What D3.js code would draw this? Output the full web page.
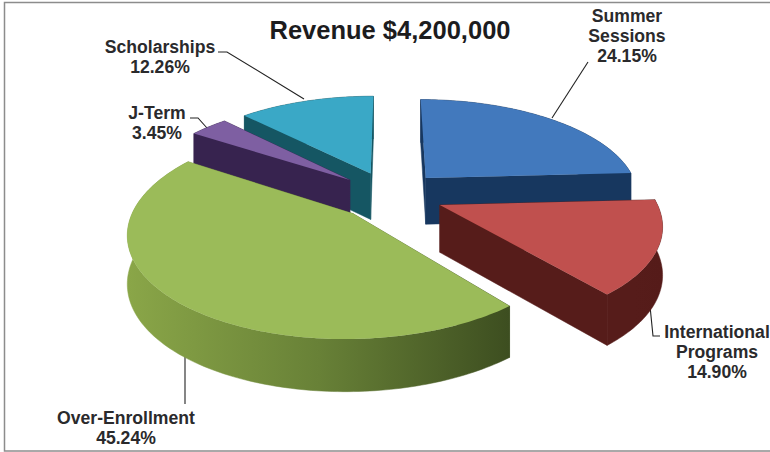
<!DOCTYPE html>
<html><head><meta charset="utf-8">
<script src="https://cdn.jsdelivr.net/npm/d3@7"></script>
<style>html,body{margin:0;padding:0;background:#fff}svg{display:block}</style></head>
<body><svg id="c" width="770" height="452"></svg>
<script>
const categories=["Summer Sessions","International Programs","Over-Enrollment","J-Term","Scholarships"];
const values=[24.15,14.90,45.24,3.45,12.26];
const topColors=["#4279bd","#c0504e","#9bbb59","#7e5fa2","#3aa8c6"];
const wallStops=[["#17375f","#17375f","#17375f"],["#561c1a","#561c1a","#551b19"],["#8aa648","#688137","#3d4e20"],["#37234f","#37234f","#37234f"],["#155663","#155663","#155663"]];
const labelLines=[["Summer","Sessions","24.15%"],["International","Programs","14.90%"],["Over-Enrollment","45.24%"],["J-Term","3.45%"],["Scholarships","12.26%"]];
const title="Revenue $4,200,000";

const W=770,H=452,cx=390,cy=195,A=214,B=97,E=0.25,persp=0.17,depth=47;
const svg=d3.select("#c");
svg.append("rect").attr("x",4.5).attr("y",2.5).attr("width",780).attr("height",448.5).attr("fill","#fff").attr("stroke","#8c8c8c").attr("stroke-width",1.5);

const pie=d3.pie().sort(null).value(d=>d);
const arcs=pie(values);
const proj=(wx,wy,z)=>{const p=1/(1-persp*wy);return [cx+A*wx*p,cy+B*wy*p+z*depth*Math.sqrt(p)];};
const line=d3.line();
const defs=svg.append("defs");

// leader lines (under the slices)
const leaders=[
 [[552,118],[588,62]],
 [[649,296],[653,336],[660,336]],
 [[185,350],[185,404]],
 [[207,128],[198,118],[190,118]],
 [[304,99],[227,52],[218,52]]
];
leaders.forEach(p=>svg.append("path").attr("d",line(p)).attr("fill","none").attr("stroke","#222").attr("stroke-width",1.1));

function slice(i){
  const a=arcs[i],mid=(a.startAngle+a.endAngle)/2;
  const ox=E*Math.sin(mid),oy=-E*Math.cos(mid);
  const n=Math.ceil((a.endAngle-a.startAngle)/0.02);
  const th=d3.range(n+1).map(k=>a.startAngle+(a.endAngle-a.startAngle)*k/n);
  const rim=z=>th.map(t=>proj(ox+Math.sin(t),oy-Math.cos(t),z));
  const apex=z=>proj(ox,oy,z);
  return {rim,apex};
}
const order=[0,4,3,2,1];
const g=svg.append("g");
order.forEach(i=>{
  const s=slice(i);
  const top=s.rim(0),bot=s.rim(1),a0=s.apex(0),a1=s.apex(1);
  const gid="wall"+i;
  const xs=top.map(d=>d[0]);
  const lg=defs.append("linearGradient").attr("id",gid).attr("gradientUnits","userSpaceOnUse")
    .attr("x1",d3.min(xs)).attr("x2",d3.max(xs)).attr("y1",0).attr("y2",0);
  wallStops[i].forEach((c,k)=>lg.append("stop").attr("offset",k/2).attr("stop-color",c));
  const sl=g.append("g").attr("class","slice").attr("data-cat",categories[i]);
  const walls=[
    [a0,top[0],bot[0],a1],
    [a0,top[top.length-1],bot[bot.length-1],a1],
    top.concat(bot.slice().reverse())
  ];
  walls.sort((p,q)=>d3.mean(p,d=>d[1])-d3.mean(q,d=>d[1]));
  walls.forEach(w=>sl.append("path").attr("d",line(w)+"Z").attr("fill",`url(#${gid})`).attr("stroke",`url(#${gid})`).attr("stroke-width",.5));
  sl.append("path").attr("d",line([a0,...top])+"Z").attr("fill",topColors[i]);
});

// labels
const labelPos=[[627,22],[717,338],[126,424],[157,119],[160,53]];
const fs=17.6,lh=20;
labelLines.forEach((ls,i)=>{
  const t=svg.append("text").attr("text-anchor","middle").attr("font-family","Liberation Sans, Arial, sans-serif")
    .attr("font-weight","bold").attr("font-size",fs).attr("fill","#2a2a2c");
  ls.forEach((s,k)=>t.append("tspan").attr("x",labelPos[i][0]).attr("y",labelPos[i][1]+k*lh).text(s));
});
svg.append("text").attr("x",390).attr("y",39).attr("text-anchor","middle").attr("font-family","Liberation Sans, Arial, sans-serif")
  .attr("font-weight","bold").attr("font-size",25.5).attr("fill","#1c1c1e").text(title);
</script></body></html>
